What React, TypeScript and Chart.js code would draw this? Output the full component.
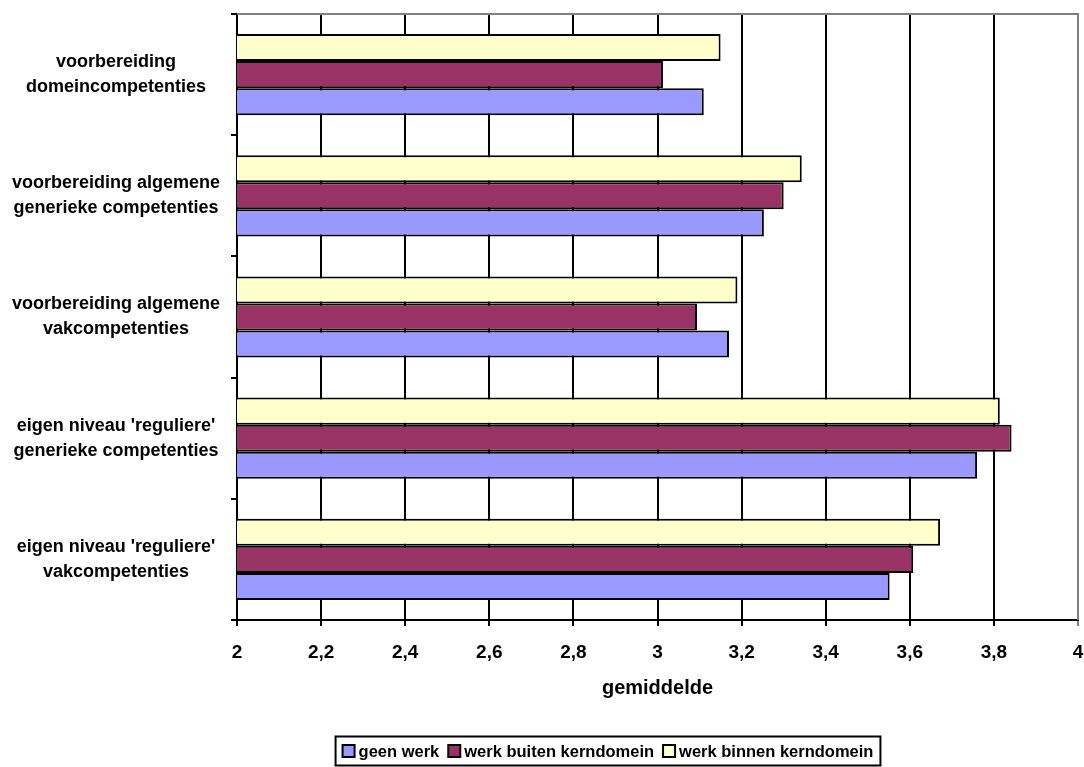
import React, { useEffect, useRef } from 'react';
import { Chart, registerables } from 'chart.js';

Chart.register(...registerables);

// ---- data ----
const categories: string[][] = [
  ['voorbereiding', 'domeincompetenties'],
  ['voorbereiding algemene', 'generieke competenties'],
  ['voorbereiding algemene', 'vakcompetenties'],
  ["eigen niveau 'reguliere'", 'generieke competenties'],
  ["eigen niveau 'reguliere'", 'vakcompetenties'],
];
const geenWerk = [3.11, 3.253, 3.17, 3.76, 3.552];
const werkBuitenKerndomein = [3.013, 3.3, 3.094, 3.842, 3.608];
const werkBinnenKerndomein = [3.15, 3.343, 3.19, 3.814, 3.672];
const xTickValues = [2, 2.2, 2.4, 2.6, 2.8, 3, 3.2, 3.4, 3.6, 3.8, 4];
const seriesLabels = ['geen werk', 'werk buiten kerndomein', 'werk binnen kerndomein'];
const seriesColors = ['#9999FF', '#993366', '#FFFFCC'];
const xTitle = 'gemiddelde';

const FAMILY = "'Liberation Sans', Arial, sans-serif";
const Y_FONT_SIZE = 18;
const TICK_FONT_SIZE = 19;
const TITLE_FONT_SIZE = 20;
const LEGEND_FONT_SIZE = 16.5;

const framePlugin = {
  id: 'grayFrame',
  afterDraw(chart: any) {
    const { ctx, chartArea } = chart;
    const { left, right, top, bottom } = chartArea;
    ctx.save();
    ctx.strokeStyle = '#808080';
    ctx.lineWidth = 2;
    ctx.beginPath();
    ctx.moveTo(left, top);
    ctx.lineTo(right, top);
    ctx.lineTo(right, bottom);
    ctx.stroke();
    ctx.restore();
  },
};

const legendPlugin = {
  id: 'boxedLegend',
  afterDraw(chart: any) {
    const ctx = chart.ctx as CanvasRenderingContext2D;
    ctx.save();
    ctx.font = `bold ${LEGEND_FONT_SIZE}px ${FAMILY}`;
    const items = seriesLabels.map((label, i) => ({
      label,
      color: seriesColors[i],
      w: ctx.measureText(label).width,
    }));
    const box = 12;
    const gapText = 4;
    const gapItem = 9;
    const padX = 7;
    const total =
      items.reduce((s, it) => s + box + gapText + it.w, 0) +
      gapItem * (items.length - 1) +
      padX * 2;
    const cx = 608;
    const cy = chart.chartArea.bottom + 131;
    const h = 29;
    let x = cx - total / 2;
    ctx.strokeStyle = '#000';
    ctx.lineWidth = 2;
    ctx.strokeRect(x, cy - h / 2, total, h);
    x += padX;
    ctx.textBaseline = 'middle';
    ctx.textAlign = 'left';
    items.forEach((it) => {
      ctx.fillStyle = it.color;
      ctx.fillRect(x, cy - box / 2, box, box);
      ctx.strokeRect(x, cy - box / 2, box, box);
      x += box + gapText;
      ctx.fillStyle = '#000';
      ctx.fillText(it.label, x, cy + 1);
      x += it.w + gapItem;
    });
    ctx.restore();
  },
};

function formatTick(v: number): string {
  return String(Number(v.toFixed(1))).replace('.', ',');
}

function zeroPadding(s: any) {
  s.paddingTop = 0;
  s.paddingBottom = 0;
  s.paddingLeft = 0;
  s.paddingRight = 0;
}

export default function App() {
  const canvasRef = useRef<HTMLCanvasElement | null>(null);

  useEffect(() => {
    document.body.style.margin = '0';
    const canvas = canvasRef.current;
    if (!canvas) return;

    const m = document.createElement('canvas').getContext('2d') as CanvasRenderingContext2D;
    m.font = `bold ${Y_FONT_SIZE}px ${FAMILY}`;
    const widest = Math.max(...categories.flat().map((s) => m.measureText(s).width));
    const axisLeft = 237;
    const labelCenter = 116;
    const tickLen = 6;
    const yPad = Math.max(2, axisLeft - tickLen - labelCenter - widest / 2);

    const chart = new Chart(canvas, {
      type: 'bar',
      data: {
        labels: categories,
        datasets: [
          {
            label: seriesLabels[2],
            data: werkBinnenKerndomein,
            backgroundColor: seriesColors[2],
            borderColor: '#000',
            borderWidth: 2,
          },
          {
            label: seriesLabels[1],
            data: werkBuitenKerndomein,
            backgroundColor: seriesColors[1],
            borderColor: '#000',
            borderWidth: 2,
          },
          {
            label: seriesLabels[0],
            data: geenWerk,
            backgroundColor: seriesColors[0],
            borderColor: '#000',
            borderWidth: 2,
          },
        ],
      },
      options: {
        indexAxis: 'y',
        responsive: false,
        animation: false,
        layout: { padding: { left: 0, right: 6, top: 14, bottom: 67 } },
        datasets: { bar: { categoryPercentage: 0.67, barPercentage: 1 } },
        plugins: {
          legend: { display: false },
          tooltip: { enabled: false },
        },
        scales: {
          x: {
            type: 'linear',
            min: 2,
            max: 4,
            afterBuildTicks: (s: any) => {
              s.ticks = xTickValues.map((v) => ({ value: v }));
            },
            afterFit: (s: any) => {
              s.height = 80;
              zeroPadding(s);
            },
            ticks: {
              color: '#000',
              font: { size: TICK_FONT_SIZE, weight: 'bold', family: FAMILY },
              padding: 15,
              maxRotation: 0,
              autoSkip: false,
              callback: (v: any) => formatTick(Number(v)),
            },
            grid: {
              color: (c: any) => (c.tick && c.tick.value === 4 ? '#808080' : '#000'),
              lineWidth: 2,
              tickLength: tickLen,
              drawOnChartArea: true,
              drawTicks: true,
            },
            border: { display: true, color: '#000', width: 2 },
            title: {
              display: true,
              text: xTitle,
              color: '#000',
              font: { size: TITLE_FONT_SIZE, weight: 'bold', family: FAMILY },
              padding: { top: 0, bottom: 0 },
            },
          },
          y: {
            type: 'category',
            afterFit: (s: any) => {
              s.width = axisLeft;
              zeroPadding(s);
            },
            ticks: {
              color: '#000',
              crossAlign: 'center',
              padding: yPad,
              autoSkip: false,
              font: { size: Y_FONT_SIZE, weight: 'bold', family: FAMILY, lineHeight: 1.39 },
            },
            grid: {
              offset: true,
              drawOnChartArea: false,
              drawTicks: true,
              tickLength: tickLen,
              color: '#000',
              lineWidth: 2,
            },
            border: { display: true, color: '#000', width: 2 },
          },
        },
      } as any,
      plugins: [framePlugin, legendPlugin],
    });

    return () => {
      chart.destroy();
    };
  }, []);

  return (
    <div style={{ width: 1084, height: 767, position: 'relative', background: '#fff' }}>
      <canvas ref={canvasRef} width={1084} height={767} style={{ display: 'block' }} />
    </div>
  );
}
